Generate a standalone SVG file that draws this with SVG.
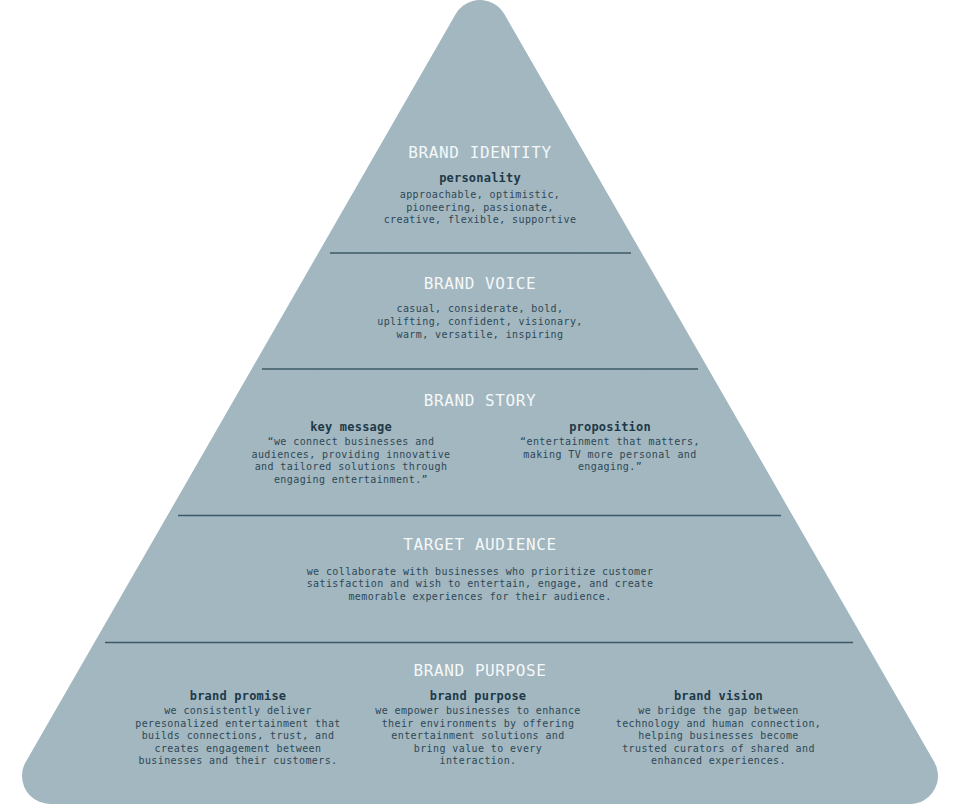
<svg xmlns="http://www.w3.org/2000/svg" width="960" height="805" viewBox="0 0 960 805">
<style>
.pyr{fill:#a2b7c0;stroke:#a2b7c0;stroke-width:56;stroke-linejoin:round}
.div{stroke:#3d5866;stroke-width:1.5}
text{font-family:"DejaVu Sans Mono","Liberation Mono",monospace;text-anchor:middle}
.h{font-size:16px;fill:#f5f8f9;letter-spacing:0.6px}
.s{font-size:12px;font-weight:bold;fill:#1e3948;letter-spacing:0.2px}
.b{font-size:10px;fill:#2e4856;letter-spacing:0.4px}
</style>
<rect width="960" height="805" fill="#ffffff"/>
<polygon class="pyr" points="480,28 910,776 50,776"/>
<g id="dividers">
<line class="div" x1="330" y1="253" x2="631" y2="253"/>
<line class="div" x1="262" y1="369" x2="698" y2="369"/>
<line class="div" x1="178" y1="515.5" x2="781" y2="515.5"/>
<line class="div" x1="105" y1="642.5" x2="853" y2="642.5"/>
</g>
<g id="brand-identity">
<text class="h" x="480" y="158">BRAND IDENTITY</text>
<text class="s" x="480" y="182">personality</text>
<text class="b" x="480" y="198">approachable, optimistic,</text>
<text class="b" x="480" y="210.7">pioneering, passionate,</text>
<text class="b" x="480" y="223.4">creative, flexible, supportive</text>
</g>
<g id="brand-voice">
<text class="h" x="480" y="288.5">BRAND VOICE</text>
<text class="b" x="480" y="312">casual, considerate, bold,</text>
<text class="b" x="480" y="324.8">uplifting, confident, visionary,</text>
<text class="b" x="480" y="337.6">warm, versatile, inspiring</text>
</g>
<g id="brand-story">
<text class="h" x="480" y="406">BRAND STORY</text>
<text class="s" x="351" y="431">key message</text>
<text class="b" x="351" y="445">“we connect businesses and</text>
<text class="b" x="351" y="457.6">audiences, providing innovative</text>
<text class="b" x="351" y="470.2">and tailored solutions through</text>
<text class="b" x="351" y="482.8">engaging entertainment.”</text>
<text class="s" x="610" y="431">proposition</text>
<text class="b" x="610" y="445">“entertainment that matters,</text>
<text class="b" x="610" y="457.6">making TV more personal and</text>
<text class="b" x="610" y="470.2">engaging.”</text>
</g>
<g id="target-audience">
<text class="h" x="480" y="549.5">TARGET AUDIENCE</text>
<text class="b" x="480" y="574.5">we collaborate with businesses who prioritize customer</text>
<text class="b" x="480" y="587">satisfaction and wish to entertain, engage, and create</text>
<text class="b" x="480" y="599.5">memorable experiences for their audience.</text>
</g>
<g id="brand-purpose">
<text class="h" x="480" y="676">BRAND PURPOSE</text>
<text class="s" x="238" y="700">brand promise</text>
<text class="b" x="238" y="714.3">we consistently deliver</text>
<text class="b" x="238" y="726.8">peresonalized entertainment that</text>
<text class="b" x="238" y="739.3">builds connections, trust, and</text>
<text class="b" x="238" y="751.8">creates engagement between</text>
<text class="b" x="238" y="764.3">businesses and their customers.</text>
<text class="s" x="478" y="700">brand purpose</text>
<text class="b" x="478" y="714.3">we empower businesses to enhance</text>
<text class="b" x="478" y="726.8">their environments by offering</text>
<text class="b" x="478" y="739.3">entertainment solutions and</text>
<text class="b" x="478" y="751.8">bring value to every</text>
<text class="b" x="478" y="764.3">interaction.</text>
<text class="s" x="718.5" y="700">brand vision</text>
<text class="b" x="718.5" y="714.3">we bridge the gap between</text>
<text class="b" x="718.5" y="726.8">technology and human connection,</text>
<text class="b" x="718.5" y="739.3">helping businesses become</text>
<text class="b" x="718.5" y="751.8">trusted curators of shared and</text>
<text class="b" x="718.5" y="764.3">enhanced experiences.</text>
</g>
</svg>
